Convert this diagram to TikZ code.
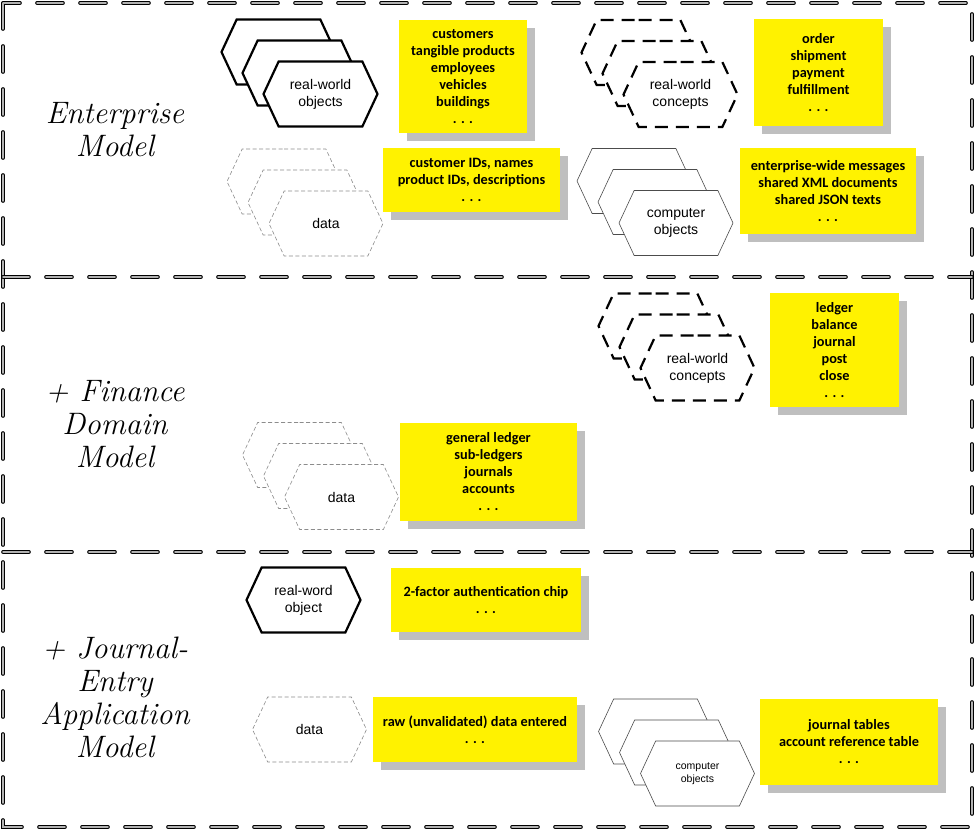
\documentclass[tikz,border=0pt]{standalone}
\usepackage{fontspec}
\newfontfamily\calibri{Carlito}
\newfontfamily\arialfont{Liberation Sans}
\usepackage{tikz}
\usetikzlibrary{shapes.symbols, shadows}
\usetikzlibrary{positioning}

\begin{document}
\begin{tikzpicture}[x=1pt, y=-1pt,
    hex/.style={shape=signal, signal to=east and west, signal pointer angle=130,
        minimum width=114pt, minimum height=65pt, inner sep=0pt, fill=white,
        align=center, font=\arialfont\fontsize{14}{17}\selectfont},
    realobj/.style={hex, draw, line width=2.2pt},
    concept/.style={hex, draw, line width=2.2pt, dash pattern=on 13pt off 8pt},
    datahex/.style={hex, draw=black!45, line width=0.6pt, dash pattern=on 4pt off 2.5pt},
    compobj/.style={hex, draw=black!70, line width=0.6pt},
    note/.style={fill=yellow, inner sep=0pt, align=center,
        font=\calibri\bfseries\fontsize{14.3}{17}\selectfont,
        drop shadow={shadow xshift=8pt, shadow yshift=-8pt, fill=black!25, opacity=1}},
    title/.style={align=center, font=\itshape\fontsize{31}{33}\selectfont},
    frame/.style={draw=black, line width=1pt, double=black!30, double distance=1.6pt,
        line cap=round, dash pattern=on 26pt off 17pt}
]

    \useasboundingbox (0,0) rectangle (975,832);

    % Frame
    \draw[frame] (3,3) rectangle (972,827);
    \draw[frame] (3,277) -- (972,277);
    \draw[frame] (3,552) -- (972,552);

    % Enterprise model
    \node[title] (entTitle) at (115,130) {Enterprise\\Model};

    \foreach \k in {2,1} {
        \node[realobj] (entObj\k) at ({320.5-21*\k},{94-21*\k}) {};
        \node[concept] (entCon\k) at ({680.5-21*\k},{94.5-21*\k}) {};
        \node[datahex] (entData\k) at ({326-21*\k},{223.5-21*\k}) {};
        \node[compobj] (entComp\k) at ({676-21*\k},{223-21*\k}) {};
    }
    \node[realobj] (entObj) at (320.5,94) {real-world\\objects};
    \node[concept] (entCon) at (680.5,94.5) {real-world\\concepts};
    \node[datahex] (entData) at (326,223.5) {data};
    \node[compobj] (entComp) at (676,223) {computer\\objects};

    \node[note, minimum width=128pt, minimum height=113pt] (entObjNote) at (463,76.5)
        {customers\\tangible products\\employees\\vehicles\\buildings\\. . .};
    \node[note, minimum width=129pt, minimum height=107pt] (entConNote) at (818.5,73)
        {order\\shipment\\payment\\fulfillment\\. . .};
    \node[note, minimum width=177pt, minimum height=64pt] (entDataNote) at (471.5,180)
        {customer IDs, names\\product IDs, descriptions\\. . .};
    \node[note, minimum width=176pt, minimum height=86pt] (entCompNote) at (828,191)
        {enterprise-wide messages\\shared XML documents\\shared JSON texts\\. . .};

    % Finance domain model
    \node[title] (finTitle) at (115,424) {+ Finance\\Domain\\Model};

    \foreach \k in {2,1} {
        \node[concept] (finCon\k) at ({697.5-21*\k},{368-21*\k}) {};
        \node[datahex] (finData\k) at ({341.5-21*\k},{497-21*\k}) {};
    }
    \node[concept] (finCon) at (697.5,368) {real-world\\concepts};
    \node[datahex] (finData) at (341.5,497) {data};

    \node[note, minimum width=129pt, minimum height=114pt] (finConNote) at (834.5,350)
        {ledger\\balance\\journal\\post\\close\\. . .};
    \node[note, minimum width=177pt, minimum height=98pt] (finDataNote) at (488.5,472)
        {general ledger\\sub-ledgers\\journals\\accounts\\. . .};

    % Journal-entry application model
    \node[title] (appTitle) at (115,697) {+ Journal-\\Entry\\Application\\Model};

    \node[realobj] (appObj) at (303.5,600) {real-word\\object};
    \node[datahex] (appData) at (309.5,729.5) {data};
    \foreach \k in {2,1}
        \node[compobj] (appComp\k) at ({697.5-21*\k},{773.5-21*\k}) {};
    \node[compobj, font=\arialfont\fontsize{10.5}{13}\selectfont] (appComp) at (697.5,773.5)
        {computer\\objects};

    \node[note, minimum width=190pt, minimum height=64pt] (appObjNote) at (486,600)
        {2-factor authentication chip\\. . .};
    \node[note, minimum width=204pt, minimum height=65pt] (appDataNote) at (475,729.5)
        {raw (unvalidated) data entered\\. . .};
    \node[note, minimum width=178pt, minimum height=86pt] (appCompNote) at (849,742)
        {journal tables\\account reference table\\. . .};

\end{tikzpicture}
\end{document}
